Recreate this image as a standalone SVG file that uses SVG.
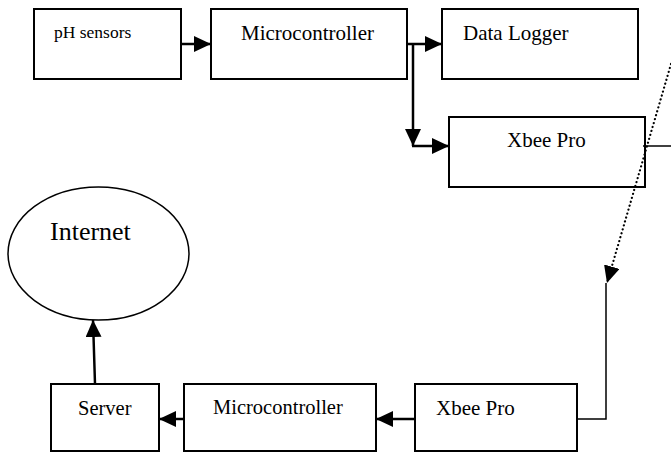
<svg xmlns="http://www.w3.org/2000/svg" width="671" height="453" viewBox="0 0 671 453">
<style>
.box{fill:#fff;stroke:#000;stroke-width:2}
.t{font-family:'Liberation Serif','DejaVu Serif',serif;fill:#000}
.arr{stroke:#000;stroke-width:2.5;fill:none}
.thin{stroke:#000;stroke-width:1.5;fill:none}
.dot{stroke:#000;stroke-width:2.2;fill:none;stroke-dasharray:0.1 4;stroke-linecap:round}
</style>
<defs>
<marker id="ah" markerUnits="userSpaceOnUse" markerWidth="18" markerHeight="16" refX="17" refY="8" orient="auto">
<path d="M0,0 L17,8 L0,16 Z" fill="#000"/>
</marker>
</defs>
<g id="ph-sensors"><rect class="box" x="34" y="9" width="147" height="70"/><text class="t" x="54" y="38" font-size="17.5">pH sensors</text></g>
<g id="microcontroller-top"><rect class="box" x="211" y="9" width="196" height="70"/><text class="t" x="241" y="40" font-size="21">Microcontroller</text></g>
<g id="data-logger"><rect class="box" x="442" y="9" width="196" height="70"/><text class="t" x="463" y="40" font-size="21">Data Logger</text></g>
<g id="xbee-top"><rect class="box" x="449" y="117" width="196" height="70"/><text class="t" x="507" y="147" font-size="21">Xbee Pro</text></g>
<g id="internet"><ellipse class="box" cx="98.5" cy="253.5" rx="90.5" ry="66.5" style="stroke-width:1.5"/><text class="t" x="50" y="240" font-size="26">Internet</text></g>
<g id="server"><rect class="box" x="51" y="384" width="108" height="67"/><text class="t" x="78" y="415" font-size="20.5">Server</text></g>
<g id="microcontroller-bottom"><rect class="box" x="184" y="384" width="192" height="67"/><text class="t" x="213" y="414" font-size="20.5">Microcontroller</text></g>
<g id="xbee-bottom"><rect class="box" x="415" y="384" width="162" height="67"/><text class="t" x="436" y="415" font-size="21">Xbee Pro</text></g>
<g id="connectors">
<line class="arr" x1="181" y1="44" x2="211" y2="44" marker-end="url(#ah)"/>
<line class="arr" x1="407" y1="44" x2="442" y2="44" marker-end="url(#ah)"/>
<line class="arr" x1="413" y1="44" x2="413" y2="146" marker-end="url(#ah)"/>
<line class="arr" x1="412" y1="146" x2="449" y2="146" marker-end="url(#ah)"/>
<line class="thin" x1="643" y1="146" x2="671" y2="146"/>
<line class="dot" x1="671" y1="64" x2="607" y2="283" marker-end="url(#ah)"/>
<polyline class="thin" points="606,283 606,419 577,419"/>
<line class="arr" x1="415" y1="419" x2="376" y2="419" marker-end="url(#ah)"/>
<line class="arr" x1="184" y1="419" x2="159" y2="419" marker-end="url(#ah)"/>
<line class="arr" x1="95" y1="384" x2="93" y2="320" marker-end="url(#ah)"/>
</g>
</svg>
